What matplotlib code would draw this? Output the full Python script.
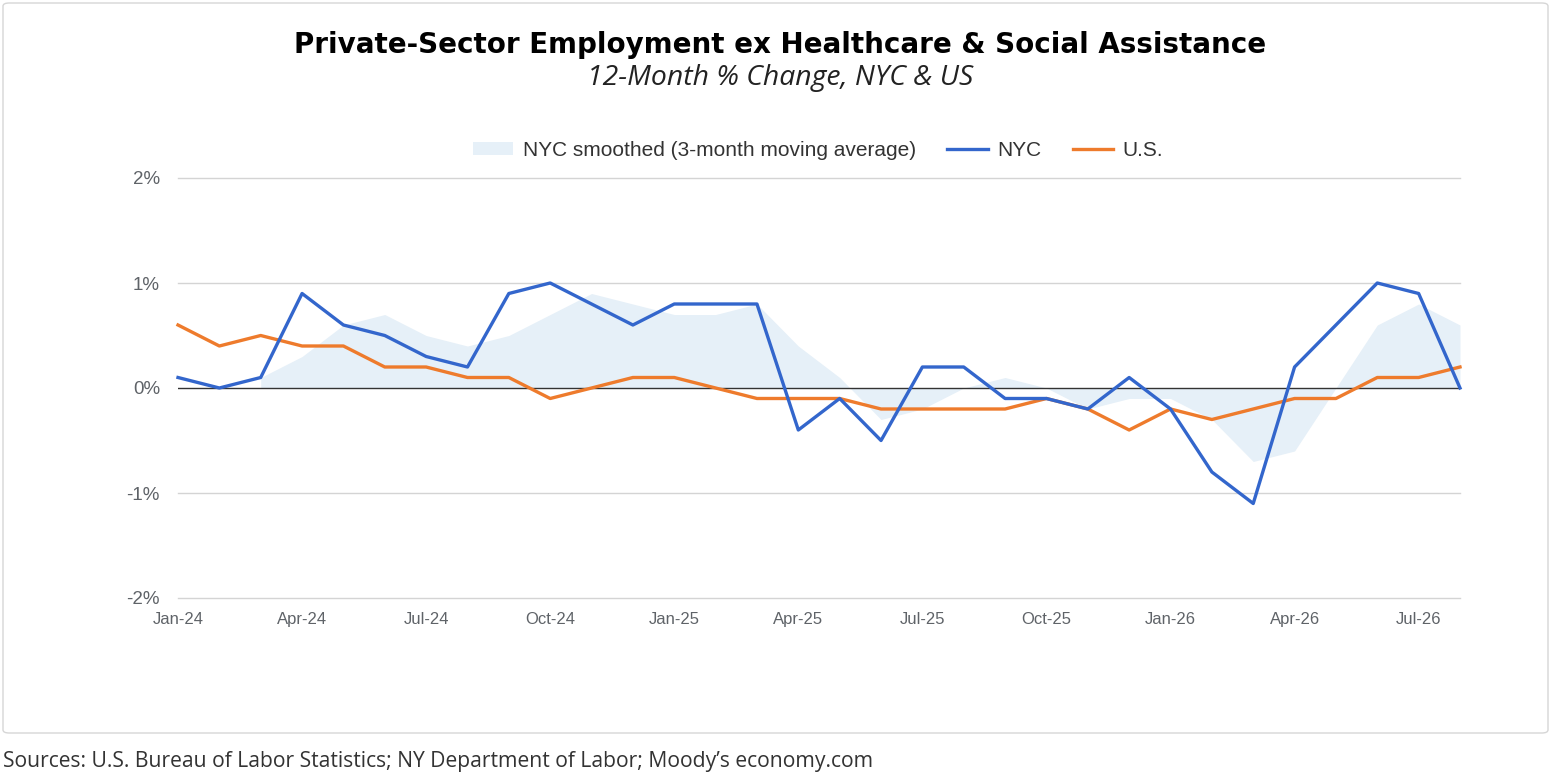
import numpy as np
import matplotlib

matplotlib.use("Agg")
import matplotlib.pyplot as plt
from matplotlib.patches import FancyBboxPatch, Patch
from matplotlib.lines import Line2D

# monthly series, Jan-24 .. Aug-26
months = [f"{m}-{y}" for y in ("24", "25", "26")
          for m in ("Jan", "Feb", "Mar", "Apr", "May", "Jun",
                    "Jul", "Aug", "Sep", "Oct", "Nov", "Dec")][:32]
nyc = [0.1, 0.0, 0.1, 0.9, 0.6, 0.5, 0.3, 0.2, 0.9, 1.0, 0.8, 0.6,
       0.8, 0.8, 0.8, -0.4, -0.1, -0.5, 0.2, 0.2, -0.1, -0.1, -0.2, 0.1,
       -0.2, -0.8, -1.1, 0.2, 0.6, 1.0, 0.9, 0.0]
us = [0.6, 0.4, 0.5, 0.4, 0.4, 0.2, 0.2, 0.1, 0.1, -0.1, 0.0, 0.1,
      0.1, 0.0, -0.1, -0.1, -0.1, -0.2, -0.2, -0.2, -0.2, -0.1, -0.2, -0.4,
      -0.2, -0.3, -0.2, -0.1, -0.1, 0.1, 0.1, 0.2]
nyc_smooth = [np.nan, np.nan, 0.1, 0.3, 0.6, 0.7, 0.5, 0.4, 0.5, 0.7, 0.9, 0.8,
              0.7, 0.7, 0.8, 0.4, 0.1, -0.3, -0.2, 0.0, 0.1, 0.0, -0.2, -0.1,
              -0.1, -0.3, -0.7, -0.6, 0.0, 0.6, 0.8, 0.6]
tick_months = months[::3]
y_ticks = [-2, -1, 0, 1, 2]

BLUE = "#3366cc"
ORANGE = "#ee7b2c"
FILL = "#e6f0f8"
GRAY = "#5f6368"

fig = plt.figure(figsize=(15.61, 7.83), dpi=100)

card = FancyBboxPatch((3 / 1561, 1 - 733 / 783), 1545 / 1561, 730 / 783,
                      boxstyle="round,pad=0,rounding_size=0.004",
                      transform=fig.transFigure, facecolor="white",
                      edgecolor="#d6d6d6", linewidth=1.0, zorder=-10)
fig.patches.append(card)

ax = fig.add_axes([178 / 1561, 1 - 598 / 783, (1460 - 178) / 1561, 420 / 783])
ax.set_facecolor("none")
ax.set_zorder(2)

x = np.arange(len(months))
sm = np.array(nyc_smooth, dtype=float)
ax.fill_between(x, 0, sm, where=~np.isnan(sm), color=FILL, linewidth=0,
                interpolate=True, zorder=1)
ax.axhline(0, color="#333333", linewidth=1.0, zorder=2)
ax.plot(x, nyc, color=BLUE, linewidth=2.4, zorder=4, clip_on=False)
ax.plot(x, us, color=ORANGE, linewidth=2.4, zorder=3, clip_on=False)

ax.set_xlim(0, len(months) - 1)
ax.set_ylim(-2, 2)
ax.set_yticks(y_ticks)
ax.set_yticklabels([f"{v}%" for v in y_ticks], fontsize=13.5, color=GRAY,
                   family="Liberation Sans")
ax.set_xticks(x[::3])
ax.set_xticklabels(tick_months, fontsize=12, color=GRAY, family="Liberation Sans")
ax.tick_params(length=0, axis="y", pad=13)
ax.tick_params(length=0, axis="x", pad=10)
for v in y_ticks:
    if v != 0:
        ax.axhline(v, color="#d4d4d4", linewidth=1.0, zorder=0, clip_on=False)
for s in ax.spines.values():
    s.set_visible(False)

fig.text(0.5, 1 - 45 / 783, "Private-Sector Employment ex Healthcare & Social Assistance",
         ha="center", va="center", fontsize=20, fontweight="bold",
         family="DejaVu Sans", color="#000000")
fig.text(0.5, 1 - 78 / 783, "12-Month % Change, NYC & US", ha="center",
         va="center", fontsize=20.4, style="italic", family="Open Sans",
         color="#222222")

handles = [Patch(facecolor=FILL, edgecolor="none"),
           Line2D([], [], color=BLUE, linewidth=2.4),
           Line2D([], [], color=ORANGE, linewidth=2.4)]
labels = ["NYC smoothed (3-month moving average)", "NYC", "U.S."]
fig.legend(handles, labels, loc="center", bbox_to_anchor=(818 / 1561, 1 - 150 / 783),
           ncol=3, frameon=False, prop={"family": "Liberation Sans", "size": 15},
           handlelength=1.95, handleheight=0.6, columnspacing=1.5, handletextpad=0.45,
           labelcolor="#333333")

fig.text(3 / 1561, 1 - 762 / 783,
         "Sources: U.S. Bureau of Labor Statistics; NY Department of Labor; Moody\u2019s economy.com",
         ha="left", va="center", fontsize=15.2, family="Open Sans", color="#333333")

fig.savefig("out.png", dpi=100)
